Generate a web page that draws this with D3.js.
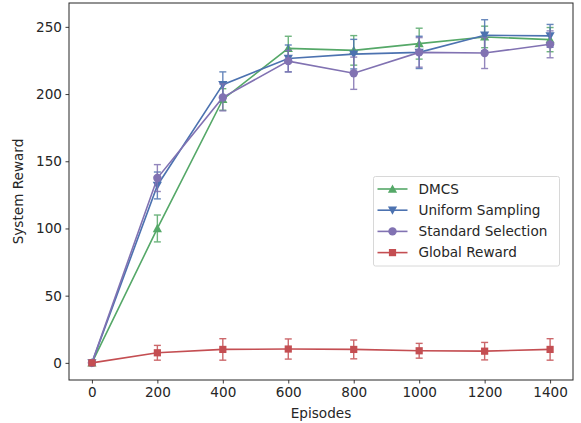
<!DOCTYPE html>
<html><head><meta charset="utf-8">
<script src="https://cdn.jsdelivr.net/npm/d3@7/dist/d3.min.js"></script>
<style>body{margin:0;background:#fff}svg{display:block}text{font-family:"DejaVu Sans",sans-serif;fill:#262626}</style>
</head><body><svg id="c" width="581" height="423"></svg>
<script>
const episodes = [0, 200, 400, 600, 800, 1000, 1200, 1400];
const seriesNames = ["DMCS", "Uniform Sampling", "Standard Selection", "Global Reward"];
const dmcs = [0, 100, 196, 234, 232.5, 237.5, 242.5, 240.5];
const dmcsErr = [0, 10, 8, 9, 11, 11.5, 8, 9];
const uniform = [0, 132, 207, 226.5, 229.7, 231, 243.8, 243.3];
const uniformErr = [0, 10, 9.5, 10, 11, 12, 11.5, 8.5];
const standard = [0, 137.5, 197.5, 224.5, 215.5, 231, 230.5, 237];
const standardErr = [0, 10, 10, 8, 12, 11, 11.5, 10];
const globalReward = [0, 7.5, 10, 10.3, 10, 9, 8.7, 10];
const globalErr = [0, 5.5, 8, 7.5, 7, 5.5, 6.5, 8];
const xTicks = [0, 200, 400, 600, 800, 1000, 1200, 1400];
const yTicks = [0, 50, 100, 150, 200, 250];
const colors = ["#55A868", "#4C72B0", "#8172B2", "#C44E52"];
const markers = ["triangleUp", "triangleDown", "circle", "square"];

const series = [
  {name: seriesNames[0], vals: dmcs, err: dmcsErr},
  {name: seriesNames[1], vals: uniform, err: uniformErr},
  {name: seriesNames[2], vals: standard, err: standardErr},
  {name: seriesNames[3], vals: globalReward, err: globalErr}
];

const FS = 13.6;
const L = 69, R = 573, T = 3, B = 380;
const svg = d3.select("#c");
const x = d3.scaleLinear().domain([-70, 1470]).range([L, R]);
const y = d3.scaleLinear().domain([-12.75, 267.75]).range([B, T]);

function drawMarker(g, type, cx, cy, color) {
  if (type === "circle") {
    g.append("circle").attr("cx", cx).attr("cy", cy).attr("r", 4.2).attr("fill", color);
  } else if (type === "square") {
    g.append("rect").attr("x", cx - 3.6).attr("y", cy - 3.6).attr("width", 7.2).attr("height", 7.2).attr("fill", color);
  } else if (type === "triangleUp") {
    const s = 4.6;
    g.append("path").attr("d", `M${cx},${cy - s}L${cx + s},${cy + s * 0.8}L${cx - s},${cy + s * 0.8}Z`).attr("fill", color);
  } else {
    const s = 4.6;
    g.append("path").attr("d", `M${cx},${cy + s}L${cx + s},${cy - s * 0.8}L${cx - s},${cy - s * 0.8}Z`).attr("fill", color);
  }
}

const plot = svg.append("g");
const line = d3.line().x((d, i) => x(episodes[i])).y(d => y(d));
series.forEach((s, si) => {
  const g = plot.append("g");
  const c = colors[si];
  g.append("path").datum(s.vals).attr("d", line).attr("fill", "none").attr("stroke", c).attr("stroke-width", 1.6);
  s.vals.forEach((v, i) => {
    const e = s.err[i];
    if (e > 0) {
      const px = x(episodes[i]);
      const eg = g.append("g").attr("stroke", c).attr("stroke-width", 1.4).attr("opacity", 0.85);
      eg.append("line").attr("x1", px).attr("x2", px).attr("y1", y(v - e)).attr("y2", y(v + e));
      eg.append("line").attr("x1", px - 3.5).attr("x2", px + 3.5).attr("y1", y(v - e)).attr("y2", y(v - e));
      eg.append("line").attr("x1", px - 3.5).attr("x2", px + 3.5).attr("y1", y(v + e)).attr("y2", y(v + e));
    }
    drawMarker(g, markers[si], x(episodes[i]), y(v), c);
  });
});

// axes
const xAxis = svg.append("g").attr("transform", `translate(0,${B})`)
  .call(d3.axisBottom(x).tickValues(xTicks).tickSize(3.5).tickPadding(3.5).tickFormat(d3.format("d")));
const yAxis = svg.append("g").attr("transform", `translate(${L},0)`)
  .call(d3.axisLeft(y).tickValues(yTicks).tickSize(3.5).tickPadding(3.5).tickFormat(d3.format("d")));
[xAxis, yAxis].forEach(a => {
  a.select(".domain").remove();
  a.selectAll(".tick line").attr("stroke", "#262626").attr("stroke-width", 0.9);
  a.selectAll(".tick text").attr("font-size", FS).style("fill", "#262626").attr("font-family", "DejaVu Sans");
});
svg.append("rect").attr("x", L).attr("y", T).attr("width", R - L).attr("height", B - T)
  .attr("fill", "none").attr("stroke", "#262626").attr("stroke-width", 1);

svg.append("text").attr("x", (L + R) / 2).attr("y", 418).attr("text-anchor", "middle").attr("font-size", FS).text("Episodes");
svg.append("text").attr("transform", `translate(23,${(T + B) / 2}) rotate(-90)`).attr("text-anchor", "middle").attr("font-size", FS).text("System Reward");

// legend
const lg = svg.append("g");
lg.append("rect").attr("x", 373.5).attr("y", 176.5).attr("width", 186).attr("height", 89.5).attr("rx", 2)
  .attr("fill", "#fff").attr("fill-opacity", 0.8).attr("stroke", "#d8d8d8").attr("stroke-width", 1);
series.forEach((s, i) => {
  const cy = 189 + i * 21.2;
  lg.append("line").attr("x1", 377.5).attr("x2", 407.5).attr("y1", cy).attr("y2", cy).attr("stroke", colors[i]).attr("stroke-width", 1.6);
  drawMarker(lg, markers[i], 392.5, cy, colors[i]);
  lg.append("text").attr("x", 418.5).attr("y", cy).attr("dy", "0.36em").attr("font-size", FS).text(s.name);
});
</script></body></html>
